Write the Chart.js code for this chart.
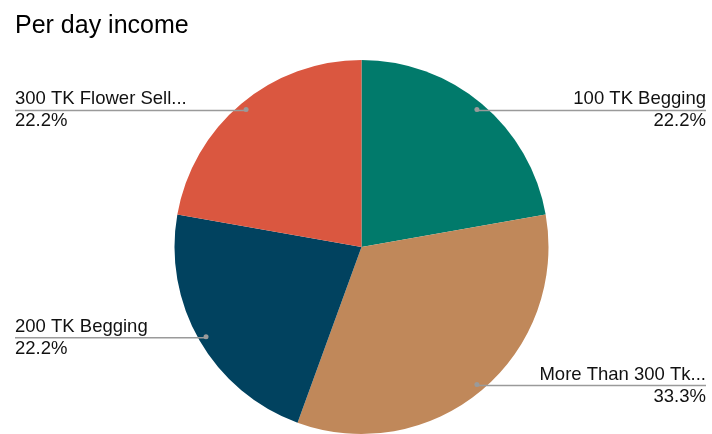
<!DOCTYPE html>
<html>
<head>
<meta charset="utf-8">
<script src="https://cdn.jsdelivr.net/npm/chart.js@4"></script>
<style>
  html, body { margin: 0; padding: 0; background: #fff; overflow: hidden; }
  #wrap { width: 712px; height: 450px; position: relative; }
</style>
</head>
<body>
<div id="wrap"><canvas id="incomeChart"></canvas></div>
<script>
const chartTitle = 'Per day income';
const categories = ['100 TK Begging', 'More Than 300 Tk...', '200 TK Begging', '300 TK Flower Sell...'];
const counts = [2, 3, 2, 2];
const sliceColors = ['#017a6b', '#c0885a', '#01425f', '#da5740'];

const FONT = '"Liberation Sans", Arial, sans-serif';

// title plus leader lines and labels for every slice
const labelPlugin = {
    id: 'sliceLabels',
    afterDraw(chart) {
        const ctx = chart.ctx;
        const total = counts.reduce((a, b) => a + b, 0);
        ctx.save();
        ctx.fillStyle = '#000';
        ctx.font = '25px ' + FONT;
        ctx.textAlign = 'left';
        ctx.textBaseline = 'alphabetic';
        ctx.fillText(chartTitle, 15, 33);

        const arcs = chart.getDatasetMeta(0).data;
        arcs.forEach((arc, i) => {
            const mid = (arc.startAngle + arc.endAngle) / 2;
            const r = arc.outerRadius * 0.96;
            const px = arc.x + Math.cos(mid) * r;
            const py = arc.y + Math.sin(mid) * r;
            const right = Math.cos(mid) > 0;
            const edge = right ? 706 : 15;

            ctx.strokeStyle = '#9a9a9a';
            ctx.lineWidth = 1.5;
            ctx.beginPath();
            ctx.moveTo(edge, py + 1);
            ctx.lineTo(px, py + 1);
            ctx.stroke();

            ctx.fillStyle = '#9a9a9a';
            ctx.beginPath();
            ctx.arc(px, py, 2.5, 0, Math.PI * 2);
            ctx.fill();

            ctx.fillStyle = '#111';
            ctx.font = '18.5px ' + FONT;
            ctx.textAlign = right ? 'right' : 'left';
            ctx.fillText(categories[i], edge, py - 5);
            const pct = (counts[i] / total * 100).toFixed(1) + '%';
            ctx.fillText(pct, edge, py + 17);
        });
        ctx.restore();
    }
};

new Chart(document.getElementById('incomeChart'), {
    type: 'pie',
    data: {
        labels: categories,
        datasets: [{
            data: counts,
            backgroundColor: sliceColors,
            borderWidth: 0
        }]
    },
    options: {
        responsive: true,
        maintainAspectRatio: false,
        animation: false,
        layout: { padding: { top: 60, bottom: 16, left: 11, right: 0 } },
        plugins: {
            legend: { display: false },
            tooltip: { enabled: false }
        }
    },
    plugins: [labelPlugin]
});
</script>
</body>
</html>
